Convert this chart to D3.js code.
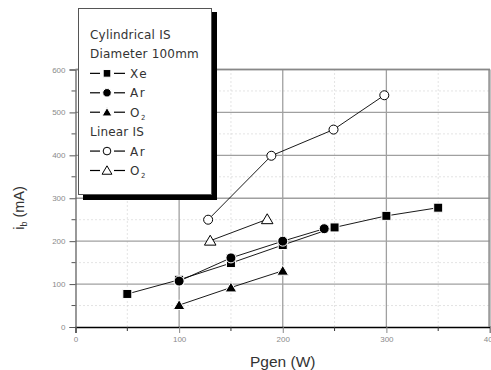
<!DOCTYPE html>
<html>
<head>
<meta charset="utf-8">
<script src="https://cdn.jsdelivr.net/npm/d3@7"></script>
<style>
  body { margin: 0; background: #fff; }
  svg { display: block; font-family: "Liberation Sans", Arial, sans-serif; }
  .tick-label { fill: #8a8a8a; font-size: 8px; }
  .legend-text { fill: #333; font-size: 12px; font-family: "DejaVu Sans", sans-serif; }
</style>
</head>
<body>
<div id="chart"></div>
<script>
// Cylindrical IS, diameter 100mm
const xeCyl = [[50, 77], [100, 110], [150, 149], [200, 191], [250, 232], [300, 259], [350, 278]];
const arCyl = [[100, 107], [150, 161], [200, 200], [240, 229]];
const o2Cyl = [[100, 51], [150, 92], [200, 131]];
// Linear IS
const arLin = [[128, 250], [189, 399], [249, 460], [298, 540]];
const o2Lin = [[130, 201], [185, 251]];

const xTicks = [0, 100, 200, 300, 400];
const yTicks = [0, 100, 200, 300, 400, 500, 600];
const xMinor = [50, 150, 250, 350];
const yMinor = [50, 150, 250, 350, 450, 550];

const series = [
  { data: xeCyl, shape: 'square', filled: true },
  { data: arCyl, shape: 'circle', filled: true },
  { data: o2Cyl, shape: 'triangle', filled: true },
  { data: arLin, shape: 'circle', filled: false },
  { data: o2Lin, shape: 'triangle', filled: false }
];

const legendRows = [
  { text: 'Cylindrical IS' },
  { text: 'Diameter 100mm' },
  { shape: 'square', filled: true, text: 'Xe' },
  { shape: 'circle', filled: true, text: 'Ar' },
  { shape: 'triangle', filled: true, text: 'O', sub: '2' },
  { text: 'Linear IS' },
  { shape: 'circle', filled: false, text: 'Ar' },
  { shape: 'triangle', filled: false, text: 'O', sub: '2' }
];

const width = 491, height = 370;
const svg = d3.select('#chart').append('svg')
  .attr('width', width).attr('height', height);

const x = d3.scaleLinear().domain([0, 400]).range([75.5, 490]);
const y = d3.scaleLinear().domain([0, 600]).range([327, 69.5]);

// minor dotted grid
svg.append('g').selectAll('line').data(xMinor).join('line')
  .attr('x1', d => x(d)).attr('x2', d => x(d))
  .attr('y1', y(600)).attr('y2', y(0))
  .attr('stroke', '#c8c8c8').attr('stroke-dasharray', '1,3');
svg.append('g').selectAll('line').data(yMinor).join('line')
  .attr('x1', x(0)).attr('x2', x(400))
  .attr('y1', d => y(d)).attr('y2', d => y(d))
  .attr('stroke', '#c8c8c8').attr('stroke-dasharray', '1,3');

// major grid
svg.append('g').selectAll('line').data(xTicks.slice(1)).join('line')
  .attr('x1', d => x(d)).attr('x2', d => x(d))
  .attr('y1', y(600)).attr('y2', y(0))
  .attr('stroke', '#a0a0a0').attr('stroke-width', 1.3);
svg.append('g').selectAll('line').data(yTicks.slice(1)).join('line')
  .attr('x1', x(0)).attr('x2', x(400))
  .attr('y1', d => y(d)).attr('y2', d => y(d))
  .attr('stroke', '#a0a0a0').attr('stroke-width', 1.3);

// axes
const xAxis = d3.axisBottom(x).tickValues(xTicks).tickSize(6).tickPadding(3);
const gx = svg.append('g').attr('transform', `translate(0,${y(0)})`).call(xAxis);
gx.select('.domain').attr('stroke', '#000').attr('stroke-width', 1.5);
gx.selectAll('.tick line').attr('stroke', '#888');
gx.selectAll('.tick text').attr('class', 'tick-label').attr('font-size', null).attr('fill', null);
gx.append('g').selectAll('line').data(xMinor).join('line')
  .attr('x1', d => x(d)).attr('x2', d => x(d)).attr('y1', 0).attr('y2', 4)
  .attr('stroke', '#333');

const yAxis = d3.axisLeft(y).tickValues(yTicks).tickSize(6).tickPadding(4);
const gy = svg.append('g').attr('transform', `translate(${x(0)},0)`).call(yAxis);
gy.select('.domain').attr('stroke', '#555').attr('stroke-width', 1.2);
gy.selectAll('.tick line').attr('stroke', '#555');
gy.selectAll('.tick text').attr('class', 'tick-label').attr('font-size', null).attr('fill', null);
gy.append('g').selectAll('line').data(yMinor).join('line')
  .attr('x1', -4).attr('x2', 0).attr('y1', d => y(d)).attr('y2', d => y(d))
  .attr('stroke', '#555');

// plot frame top / right
svg.append('line').attr('x1', x(0)).attr('x2', x(400)).attr('y1', y(600)).attr('y2', y(600))
  .attr('stroke', '#888').attr('stroke-width', 1.3);
svg.append('line').attr('x1', x(400) - 1).attr('x2', x(400) - 1).attr('y1', y(600)).attr('y2', y(0))
  .attr('stroke', '#888').attr('stroke-width', 1.3);

function marker(g, shape, filled, cx, cy, k = 1) {
  const fill = filled ? '#000' : '#fff';
  if (shape === 'square') {
    const h = 4.5 * k;
    g.append('rect').attr('x', cx - h).attr('y', cy - h).attr('width', 2 * h).attr('height', 2 * h)
      .attr('fill', fill).attr('stroke', '#fff').attr('stroke-width', 1);
  } else if (shape === 'circle') {
    g.append('circle').attr('cx', cx).attr('cy', cy).attr('r', (filled ? 5 : 4.5) * k)
      .attr('fill', fill).attr('stroke', filled ? '#fff' : '#000').attr('stroke-width', 1);
  } else {
    const s = 5.5 * k;
    const pts = [[cx, cy - s], [cx + s * 1.05, cy + s * 0.8], [cx - s * 1.05, cy + s * 0.8]];
    g.append('polygon').attr('points', pts.map(p => p.join(',')).join(' '))
      .attr('fill', fill).attr('stroke', filled ? '#fff' : '#000').attr('stroke-width', 1);
  }
}

const line = d3.line().x(d => x(d[0])).y(d => y(d[1]));
const plot = svg.append('g');
series.forEach(s => {
  plot.append('path').datum(s.data).attr('d', line)
    .attr('fill', 'none').attr('stroke', '#000').attr('stroke-width', 0.9);
});
series.forEach(s => {
  s.data.forEach(d => marker(plot, s.shape, s.filled, x(d[0]), y(d[1])));
});

// legend box with shadow
const lg = svg.append('g');
lg.append('rect').attr('x', 83).attr('y', 12).attr('width', 134).attr('height', 188).attr('fill', '#000');
lg.append('rect').attr('x', 78.5).attr('y', 8.5).attr('width', 133).attr('height', 186)
  .attr('fill', '#fff').attr('stroke', '#555').attr('stroke-width', 1);

const rowY = d3.scalePoint().domain(d3.range(legendRows.length)).range([39, 175]);
legendRows.forEach((r, i) => {
  const yy = rowY(i);
  if (r.shape) {
    lg.append('line').attr('x1', 90).attr('x2', 100).attr('y1', yy - 4.5).attr('y2', yy - 4.5)
      .attr('stroke', '#000').attr('stroke-width', 1.2);
    lg.append('line').attr('x1', 114).attr('x2', 125).attr('y1', yy - 4.5).attr('y2', yy - 4.5)
      .attr('stroke', '#000').attr('stroke-width', 1.2);
    marker(lg, r.shape, r.filled, 107, yy - 4.5, 0.85);
    const t = lg.append('text').attr('class', 'legend-text').attr('x', 130).attr('y', yy)
      .attr('letter-spacing', '1.5px').text(r.text);
    if (r.sub) t.append('tspan').attr('font-size', '7px').attr('dy', 3).text(r.sub);
  } else {
    lg.append('text').attr('class', 'legend-text').attr('x', 90).attr('y', yy)
      .attr('letter-spacing', '0.2px').text(r.text);
  }
});

// axis titles
svg.append('text').attr('x', x(200)).attr('y', 367).attr('text-anchor', 'middle')
  .attr('font-size', '15.5px').attr('fill', '#333').text('Pgen (W)');
const yt = svg.append('text').attr('transform', 'translate(24,208) rotate(-90)')
  .attr('text-anchor', 'middle').attr('font-size', '14.5px').attr('fill', '#333');
yt.append('tspan').text('i');
yt.append('tspan').attr('font-size', '9px').attr('dy', 3).text('b');
yt.append('tspan').attr('dy', -3).text(' (mA)');
</script>
</body>
</html>
